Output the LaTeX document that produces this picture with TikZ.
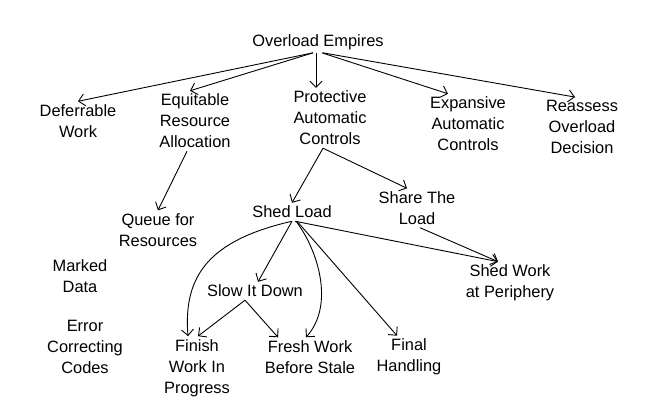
\documentclass[tikz,border=0pt]{standalone}
\usepackage{fontspec}
\setmainfont{Liberation Sans}
\usetikzlibrary{arrows.meta,positioning}
\begin{document}
\begin{tikzpicture}[x=1pt, y=-1pt,
  lbl/.style={align=center, font=\fontsize{16.4}{21}\selectfont, inner sep=3pt},
  arr/.style={-{Straight Barb[length=6pt,width=12pt]}, line width=0.9pt}]
  \useasboundingbox (0,0) rectangle (645,415);
  % Top level
  \node[lbl] (top) at (318,42) {Overload Empires};
  \node[lbl] (defer) at (78,121) {Deferrable\\Work};
  \node[lbl] (equit) at (195,121) {Equitable\\Resource\\Allocation};
  \node[lbl] (prot) at (330,118) {Protective\\Automatic\\Controls};
  \node[lbl] (expan) at (468,124) {Expansive\\Automatic\\Controls};
  \node[lbl] (reass) at (582,127) {Reassess\\Overload\\Decision};
  % Second level
  \node[lbl] (queue) at (158,230) {Queue for\\Resources};
  \node[lbl] (shed) at (292,212) {Shed Load};
  \node[lbl] (share) at (417,208) {Share The\\Load};
  \node[lbl] (periph) at (510,283) {Shed Work\\at Periphery};
  \node[lbl] (marked) at (80,276) {Marked\\Data};
  \node[lbl] (error) at (85,347) {Error\\Correcting\\Codes};
  % Third level
  \node[lbl] (slow) at (255,291) {Slow It Down};
  \node[lbl] (finish) at (197,368) {Finish\\Work In\\Progress};
  \node[lbl] (fresh) at (310,357) {Fresh Work\\Before Stale};
  \node[lbl] (final) at (409,357) {Final\\Handling};
  % Arrows from the top
  \draw[arr] ([xshift=-5pt]top.south) -- (defer.north);
  \draw[arr] ([xshift=-5pt]top.south) -- ([xshift=-5pt]equit.north);
  \draw[arr] ([xshift=-2pt]top.south) -- ([xshift=-14pt]prot.north);
  \draw[arr] ([xshift=4pt]top.south) -- ([xshift=-20pt]expan.north);
  \draw[arr] ([xshift=5pt]top.south) -- ([xshift=-7pt]reass.north);
  % Arrows below
  \draw[arr] ([xshift=-8pt]equit.south) -- (queue.north);
  \draw[arr] ([xshift=-7pt]prot.south) -- (shed.north);
  \draw[arr] ([xshift=-7pt]prot.south) -- ([xshift=-10pt]share.north);
  \draw[arr] ([xshift=3pt]shed.south) -- ([xshift=-12pt]periph.north);
  \draw[arr] ([xshift=3pt]share.south) -- ([xshift=-12pt]periph.north);
  \draw[arr] (shed.south) .. controls (210,240) and (183,275)
    .. ([xshift=-9pt]finish.north);
  \draw[arr] (shed.south) -- ([xshift=3pt]slow.north);
  \draw[arr] ([xshift=4pt]shed.south) .. controls (318,250) and (335,305)
    .. ([xshift=-4pt]fresh.north);
  \draw[arr] ([xshift=5pt]shed.south) -- ([xshift=-12pt]final.north);
  \draw[arr] ([xshift=-10pt]slow.south) -- ([xshift=1pt]finish.north);
  \draw[arr] ([xshift=-10pt]slow.south) -- ([xshift=-32pt]fresh.north);
\end{tikzpicture}
\end{document}
